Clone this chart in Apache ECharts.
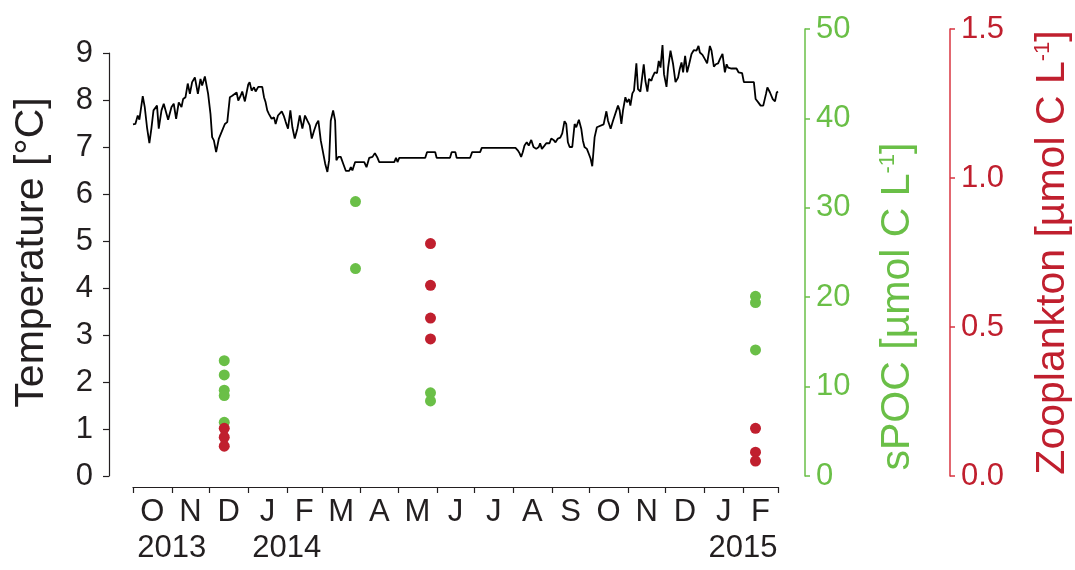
<!DOCTYPE html>
<html>
<head>
<meta charset="utf-8">
<script src="https://cdn.jsdelivr.net/npm/echarts@6/dist/echarts.min.js"></script>
<style>
  html, body { margin: 0; padding: 0; background: #ffffff; }
  #chart { width: 1075px; height: 570px; }
</style>
</head>
<body>
<div id="chart"></div>
<script>
// Time span of the record
const startDate = '2013-10-01';
const endDate = '2015-03-01';

// Month boundaries and month initials for the time axis
const monthStarts = ['2013-10-01', '2013-11-01', '2013-12-01', '2014-01-01', '2014-02-01',
  '2014-03-01', '2014-04-01', '2014-05-01', '2014-06-01', '2014-07-01', '2014-08-01',
  '2014-09-01', '2014-10-01', '2014-11-01', '2014-12-01', '2015-01-01', '2015-02-01', '2015-03-01'];
const monthLetters = ['O', 'N', 'D', 'J', 'F', 'M', 'A', 'M', 'J', 'J', 'A', 'S', 'O', 'N', 'D', 'J', 'F'];
const yearLabels = ['2013', '2014', '2015'];
const yearLabelDates = ['2013-11-01', '2014-02-01', '2015-02-01'];

// Temperature record: days since start and °C
const tempDays = [0, 1.9, 3.8, 5.1, 7.8, 9.4, 11.2, 13.1, 14.7, 16.4, 18.0, 19.2, 20.6, 22.8, 24.6, 26.0,
  28.1, 30.8, 32.6, 34.5, 36.6, 38.8, 40.1, 42.0, 43.8, 45.5, 47.3, 49.5, 51.9, 54.0, 55.3, 57.5,
  58.5, 60.1, 62.0, 63.3, 64.7, 66.5, 68.7, 70.9, 73.5, 75.4, 77.5, 79.4, 80.7, 82.9, 84.2, 86.1,
  87.4, 89.5, 90.9, 92.2, 93.3, 94.9, 96.8, 98.1, 100.2, 103.4, 104.8, 106.1, 107.4, 108.8, 110.9,
  112.8, 114.1, 116.0, 117.4, 119.0, 120.8, 122.2, 124.0, 125.9, 127.5, 129.4, 131.5, 133.4, 135.5,
  137.6, 139.5, 141.4, 143.0, 144.9, 146.7, 148.3, 150.2, 151.5, 153.7, 155.5, 156.9, 158.2, 160.1,
  161.7, 162.7, 164.3, 166.2, 168.1, 170.3, 172.9, 174.3, 175.5, 177.7, 180.4, 185.0, 186.8, 189.0,
  191.6, 193.5, 195.6, 197.0, 209.0, 210.4, 211.6, 213.0, 233.8, 235.2, 241.8, 242.9, 253.6, 254.9,
  257.9, 258.9, 269.7, 271.3, 277.7, 279.0, 306.0, 307.8, 309.2, 310.5, 311.8, 313.2, 315.0, 316.6,
  318.6, 320.4, 322.6, 324.6, 325.7, 327.1, 329.2, 330.6, 333.2, 334.6, 336.4, 338.0, 339.9, 341.8,
  343.4, 345.2, 346.6, 347.9, 349.3, 351.4, 353.3, 354.6, 356.7, 358.6, 359.9, 361.2, 363.1, 364.7,
  366.1, 367.4, 369.3, 371.1, 372.7, 376.5, 378.7, 380.0, 382.1, 384.0, 385.3, 388.0, 389.3, 390.7,
  392.0, 393.9, 395.2, 396.8, 397.9, 399.5, 400.8, 402.7, 404.0, 405.9, 408.6, 409.9, 411.5, 412.8,
  414.7, 415.5, 417.4, 419.2, 420.6, 422.0, 423.6, 424.8, 426.8, 428.1, 430.0, 432.1, 434.0, 436.1,
  437.4, 438.8, 440.1, 441.7, 443.3, 444.9, 446.8, 448.6, 450.8, 452.4, 453.5, 455.6, 457.5, 459.3,
  461.5, 462.8, 464.7, 466.3, 468.1, 469.5, 471.6, 473.5, 474.9, 476.1, 478.8, 482.8, 484.4, 487.3,
  488.7, 496.7, 498.1, 500.2, 502.1, 504.2, 506.4, 507.5, 509.6, 511.8, 513.6, 515.0, 516.0];
const tempValues = [7.48, 7.49, 7.67, 7.58, 8.08, 7.85, 7.42, 7.08, 7.39, 7.78, 7.74, 7.88, 7.39, 7.78, 7.92, 7.95,
  7.58, 7.85, 7.92, 7.60, 7.95, 7.85, 8.02, 8.06, 8.35, 8.13, 8.38, 8.48, 8.13, 8.45, 8.31, 8.50,
  8.48, 8.13, 7.70, 7.21, 7.14, 6.89, 7.18, 7.32, 7.49, 7.53, 8.06, 8.09, 8.07, 8.16, 7.99, 8.09,
  8.18, 7.97, 8.16, 8.33, 8.38, 8.20, 8.27, 8.18, 8.28, 8.28, 8.06, 7.95, 7.78, 7.70, 7.60,
  7.63, 7.49, 7.67, 7.65, 7.76, 7.65, 7.53, 7.39, 7.78, 7.42, 7.18, 7.39, 7.67, 7.39,
  7.67, 7.56, 7.46, 7.18, 7.35, 7.49, 7.56, 7.14, 6.96, 6.65, 6.47, 6.72, 7.56, 7.78,
  7.56, 6.72, 6.79, 6.79, 6.65, 6.49, 6.49, 6.57, 6.50, 6.68, 6.68, 6.68, 6.57, 6.77,
  6.79, 6.87, 6.77, 6.68, 6.68, 6.77, 6.68, 6.77, 6.77, 6.89, 6.89, 6.77, 6.77, 6.89,
  6.89, 6.77, 6.77, 6.89, 6.89, 6.98, 6.98, 6.93, 6.87, 6.79, 6.89, 7.03, 7.10, 7.03,
  7.15, 7.00, 6.96, 7.00, 7.08, 6.96, 7.03, 7.08, 7.08, 7.18, 7.15, 7.10, 7.18, 7.20,
  7.29, 7.55, 7.49, 7.10, 7.00, 7.00, 7.49, 7.42, 7.58, 7.39, 7.14, 7.00, 6.96, 6.85,
  6.75, 6.59, 7.21, 7.42, 7.46, 7.48, 7.76, 7.56, 7.39, 7.56, 7.53, 7.88, 7.78, 7.49,
  7.78, 8.06, 7.95, 8.02, 7.88, 8.14, 8.20, 8.78, 8.23, 8.18, 8.76, 8.41, 8.18, 8.45,
  8.41, 8.48, 8.59, 8.57, 8.83, 8.69, 9.17, 8.55, 8.28, 8.69, 9.05, 8.76, 8.38, 8.48,
  8.66, 8.80, 8.59, 8.94, 8.59, 8.76, 8.98, 9.06, 9.05, 9.15, 9.01, 8.96, 8.87, 8.78,
  9.15, 9.05, 8.71, 8.76, 8.78, 8.87, 8.98, 8.59, 8.76, 8.69, 8.67, 8.67, 8.59, 8.57,
  8.38, 8.38, 8.02, 7.95, 7.88, 7.88, 8.13, 8.27, 8.16, 8.02, 7.97, 8.16, 8.18];

// Sampling dates and measured concentrations (µmol C L-1)
const sampleDates = ['2013-12-13', '2014-03-28', '2014-05-27', '2015-02-11'];
const spocValues = [[12.9, 11.3, 9.6, 9.0, 6.0], [30.7, 23.2], [9.3, 8.4], [20.1, 19.4, 14.1]];
const zooValues = [[0.16, 0.13, 0.10], [], [0.78, 0.64, 0.53, 0.46], [0.16, 0.08, 0.05]];

const FONT = "'Liberation Sans', Arial, Helvetica, sans-serif";
const INK = '#231f20';
const GREEN = '#6abf47';
const RED = '#c01f2e';
const RED_LINE = '#d83540';

const DAY = 86400000;
const dayOf = s => (Date.parse(s) - Date.parse(startDate)) / DAY;
const totalDays = dayOf(endDate);
const tickDays = monthStarts.map(dayOf);
const midDays = monthLetters.map((_, i) => (tickDays[i] + tickDays[i + 1]) / 2);
const yearDays = yearLabelDates.map(dayOf);

const tempData = tempDays.map((d, i) => [d, tempValues[i]]);
const spocData = [];
const zooData = [];
sampleDates.forEach((s, i) => {
  const d = dayOf(s);
  spocValues[i].forEach(v => spocData.push([d, v]));
  zooValues[i].forEach(v => zooData.push([d, v]));
});

const tickFont = { fontFamily: FONT, fontSize: 31 };
const titleSize = 41;
const supSize = 22;

const chart = echarts.init(document.getElementById('chart'), null, { renderer: 'canvas' });
chart.setOption({
  animation: false,
  backgroundColor: '#ffffff',
  textStyle: { fontFamily: FONT },
  grid: [
    { left: 133, right: 297, top: 53, bottom: 94, outerBoundsMode: 'none', containLabel: false },
    { left: 133, right: 297, top: 29, bottom: 94, outerBoundsMode: 'none', containLabel: false }
  ],
  xAxis: [
    {
      type: 'value', gridIndex: 0, min: 0, max: totalDays, position: 'bottom', offset: 11,
      axisLine: { show: true, onZero: false, lineStyle: { color: INK, width: 1.2 } },
      axisTick: { show: true, customValues: tickDays, length: 6, lineStyle: { color: INK, width: 1.2 } },
      axisLabel: {
        customValues: midDays, margin: 10, color: INK, ...tickFont,
        formatter: v => monthLetters[midDays.findIndex(m => Math.abs(m - v) < 0.01)]
      },
      splitLine: { show: false }
    },
    {
      type: 'value', gridIndex: 1, min: 0, max: totalDays, show: false,
      axisLine: { onZero: false }
    },
    {
      type: 'value', gridIndex: 0, min: 0, max: totalDays, position: 'bottom', offset: 11,
      axisLine: { show: false, onZero: false }, axisTick: { show: false }, splitLine: { show: false },
      axisLabel: {
        customValues: yearDays, margin: 46, color: INK, ...tickFont,
        formatter: v => yearLabels[yearDays.findIndex(m => Math.abs(m - v) < 0.01)]
      }
    }
  ],
  yAxis: [
    {
      type: 'value', gridIndex: 0, min: 0, max: 9, interval: 1, position: 'left', offset: 24,
      axisLine: { show: true, onZero: false, lineStyle: { color: INK, width: 1.2 } },
      axisTick: { show: true, length: 6, lineStyle: { color: INK, width: 1.2 } },
      axisLabel: { color: INK, margin: 16, ...tickFont },
      splitLine: { show: false },
      name: 'Temperature [°C]', nameLocation: 'middle', nameRotate: 90, nameGap: 57,
      nameTextStyle: { color: INK, fontFamily: FONT, fontSize: titleSize, padding: [0, 0, 0, 24] }
    },
    {
      type: 'value', gridIndex: 1, min: 0, max: 50, interval: 10, position: 'right', offset: 27,
      axisLine: { show: true, onZero: false, lineStyle: { color: GREEN, width: 1.5 } },
      axisTick: { show: true, length: 5, lineStyle: { color: GREEN, width: 1.5 } },
      axisLabel: { color: GREEN, margin: 11, ...tickFont },
      splitLine: { show: false },
      name: 'sPOC [µmol C L{sup|-1}]', nameLocation: 'middle', nameRotate: 90, nameGap: 72,
      nameTextStyle: {
        color: GREEN, fontFamily: FONT, fontSize: titleSize, padding: [0, 108, 0, 0],
        rich: { sup: { color: GREEN, fontFamily: FONT, fontSize: supSize, verticalAlign: 'top' } }
      }
    },
    {
      type: 'value', gridIndex: 1, min: 0, max: 1.5, interval: 0.5, position: 'right', offset: 172,
      axisLine: { show: true, onZero: false, lineStyle: { color: RED_LINE, width: 1.5 } },
      axisTick: { show: true, length: 5, lineStyle: { color: RED_LINE, width: 1.5 } },
      axisLabel: { color: RED, margin: 11, ...tickFont, formatter: v => v.toFixed(1) },
      splitLine: { show: false },
      name: 'Zooplankton [µmol C L{sup|-1}]', nameLocation: 'middle', nameRotate: 90, nameGap: 82,
      nameTextStyle: {
        color: RED, fontFamily: FONT, fontSize: titleSize,
        rich: { sup: { color: RED, fontFamily: FONT, fontSize: supSize, verticalAlign: 'top' } }
      }
    }
  ],
  series: [
    {
      name: 'Temperature', type: 'line', xAxisIndex: 0, yAxisIndex: 0, data: tempData,
      showSymbol: false, symbol: 'none', clip: false,
      lineStyle: { color: '#000000', width: 1.8 }, z: 2
    },
    {
      name: 'sPOC', type: 'scatter', xAxisIndex: 1, yAxisIndex: 1, data: spocData,
      symbolSize: 11, itemStyle: { color: GREEN, opacity: 1 }, z: 3
    },
    {
      name: 'Zooplankton', type: 'scatter', xAxisIndex: 1, yAxisIndex: 2, data: zooData,
      symbolSize: 11, itemStyle: { color: RED, opacity: 1 }, z: 4
    }
  ]
});
</script>
</body>
</html>
